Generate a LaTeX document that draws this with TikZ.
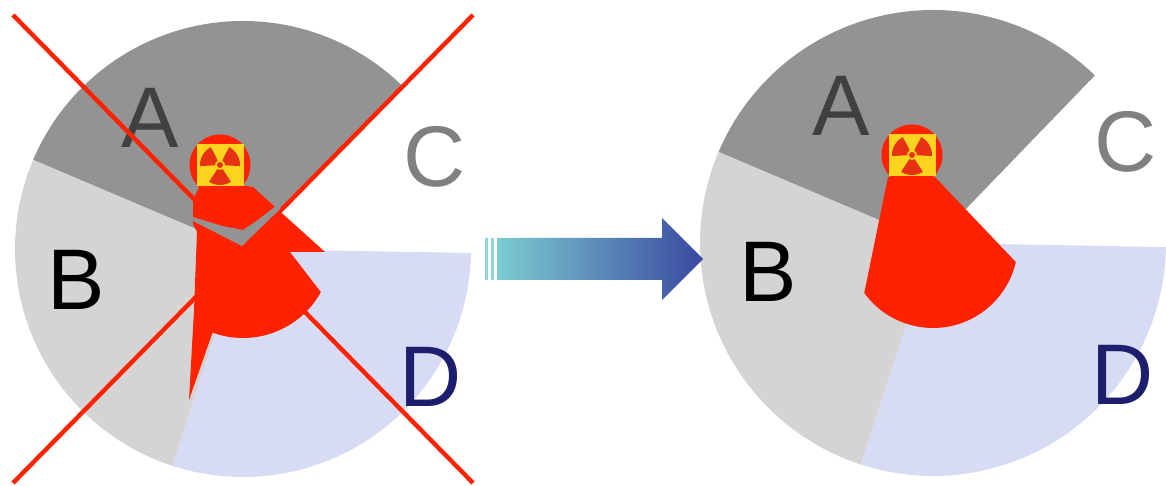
\documentclass[tikz,border=0pt]{standalone}
\usepackage{fontspec}
\newfontfamily\labelfont{Liberation Sans}
\usetikzlibrary{calc, positioning}
\definecolor{sectA}{HTML}{939393}
\definecolor{sectB}{HTML}{D4D4D4}
\definecolor{sectD}{HTML}{D8DBF4}
\definecolor{beamred}{HTML}{FF2200}
\definecolor{signyellow}{HTML}{FFD41E}
\definecolor{trefoil}{HTML}{E63212}
\definecolor{letterA}{HTML}{404040}
\definecolor{letterC}{HTML}{808080}
\definecolor{letterD}{HTML}{1E1E6E}
\definecolor{arrowteal}{HTML}{7CCCD0}
\definecolor{arrowblue}{HTML}{3A48A0}

\begin{document}
\begin{tikzpicture}
  [x=0.02cm, y=0.02cm,
   letter/.style={font=\labelfont\fontsize{49}{50}\selectfont, inner sep=0pt},
   cross/.style={beamred, line width=2.5pt}]
  \useasboundingbox (0,0) rectangle (1166,486);

  % centres %
  \coordinate (lc) at (243,237);
  \coordinate (rc) at (933,243);
  \coordinate (lh) at (220,321);
  \coordinate (rh) at (912,331);

  % sectors %
  \foreach \c/\r in {lc/228, rc/233}
    \foreach \from/\to/\col in {46/157/sectA, 157/252/sectB, 252/359/sectD}
      \fill[\col] (\c) -- ++(\from:\r) arc[start angle=\from, end angle=\to, radius=\r] -- cycle;

  % nodes %
  \node[letter, text=letterA] (lA) at (150,368) {A};
  \node[letter, text=black] (lB) at (76,206) {B};
  \node[letter, text=letterC] (lC) at (435,329) {C};
  \node[letter, text=letterD] (lD) at (431,109) {D};
  \node[letter, text=letterA] (rA) at (841,380) {A};
  \node[letter, text=black] (rB) at (768,214) {B};
  \node[letter, text=letterC] (rC) at (1126,344) {C};
  \node[letter, text=letterD] (rD) at (1123,111) {D};

  % wrong beam %
  \fill[beamred] (200,301) -- (193,286) -- (193,262) -- (197,254) -- (194,176) -- (189,86)
    -- ($(lc)+(250:89)$) arc[start angle=250, end angle=331, radius=89]
    -- (290,234) -- (325,234) -- (253,299) -- (240,301) -- cycle;

  % cross %
  \coordinate (xa1) at (13,471);
  \coordinate (xa2) at (473,3);
  \coordinate (xb1) at (473,471);
  \coordinate (xb2) at (13,3);
  \draw[cross] (xa1) -- (xa2);
  \draw[cross] (xb1) -- (xb2);
  \fill[sectA] (193,265) -- (242,240) -- (281,278) -- (276,280) -- (258,266)
    -- (243,256) -- (222,260) -- (193,269) -- cycle;

  % right beam %
  \fill[beamred] (888,309) -- ($(rc)+(216:85)$) arc[start angle=216, end angle=347, radius=85]
    -- (935,309) -- cycle;

  % sources %
  \foreach \h in {lh, rh} {
    \fill[beamred] (\h) circle[radius=30.5];
    \fill[signyellow] ($(\h)+(-23.5,-21)$) rectangle ($(\h)+(23.5,21)$);
    \foreach \a in {30,150,270}
      \fill[trefoil] ($(\h)+(\a-33:5)$) -- ($(\h)+(\a-33:20)$)
        arc[start angle=\a-33, end angle=\a+33, radius=20]
        -- ($(\h)+(\a+33:5)$) arc[start angle=\a+33, end angle=\a-33, radius=5] -- cycle;
    \fill[trefoil] (\h) circle[radius=3];
  }

  % arrow %
  \coordinate (ar0) at (497,206);
  \coordinate (ar1) at (703,227);
  \fill[arrowteal!85!white] (485,206) rectangle (488,248);
  \fill[arrowteal!85!white] (491,206) rectangle (494,248);
  \shade[left color=arrowteal, right color=arrowblue]
    (ar0) -- (662,206) -- (662,186) -- (ar1) -- (662,268) -- (662,248) -- (497,248) -- cycle;
\end{tikzpicture}
\end{document}
